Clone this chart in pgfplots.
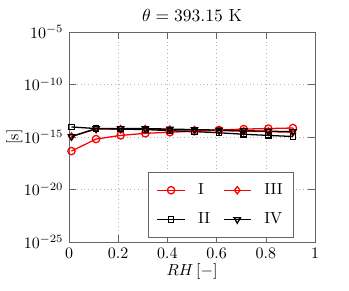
\documentclass[border=0pt]{standalone}
\usepackage{pgfplots}
\pgfplotsset{compat=1.18}
\begin{document}
\begin{tikzpicture}
\begin{axis}[
  scale only axis, width=153.75pt, height=131.25pt,
  xmin=0, xmax=1, ymode=log, ymin=1e-25, ymax=1e-5,
  ytick={1e-25,1e-20,1e-15,1e-10,1e-5},
  xtick={0,0.2,0.4,0.6,0.8,1},
  xticklabels={0,0.2,0.4,0.6,0.8,1},
  grid=major, major grid style={dotted, gray!60},
  axis line style={gray!80!black},
  tick style={gray!80!black},
  tick align=inside,
  title={$\theta = 393.15$ K},
  title style={font=\fontsize{11}{13}\selectfont, yshift=-3pt},
  xlabel={$RH\,[-]$}, ylabel={[s]},
  ylabel style={yshift=-6pt},
  xlabel style={yshift=4pt},
  clip=false,
  legend columns=2,
  legend style={at={(0.915,0.02)}, anchor=south east, draw=gray!80!black,
    column sep=6pt, row sep=6pt, inner sep=5pt},
  legend cell align=left,
]
\addplot[red, thick, mark=o, mark size=2.3pt] coordinates {
(0.01,4.5e-17) (0.11,6.3e-16) (0.21,1.4e-15) (0.31,2.2e-15) (0.41,2.8e-15)
(0.51,3.5e-15) (0.61,4.5e-15) (0.71,5.6e-15) (0.81,6.3e-15) (0.91,7.1e-15)};
\addlegendentry{I}
\addplot[red, thick, mark=diamond, mark size=2.3pt] coordinates {
(0.01,1.1e-15) (0.11,5.6e-15) (0.21,5.6e-15) (0.31,5.6e-15) (0.41,5.0e-15)
(0.51,4.5e-15) (0.61,4.0e-15) (0.71,3.5e-15) (0.81,3.2e-15) (0.91,2.8e-15)};
\addlegendentry{III}
\addplot[black, thick, mark=square, mark size=1.7pt] coordinates {
(0.01,8.9e-15) (0.11,6.3e-15) (0.21,5.6e-15) (0.31,5.0e-15) (0.41,4.0e-15)
(0.51,3.2e-15) (0.61,2.5e-15) (0.71,1.8e-15) (0.81,1.4e-15) (0.91,1.1e-15)};
\addlegendentry{II}
\addplot[black, thick, mark=triangle, mark options={rotate=180}, mark size=2.3pt] coordinates {
(0.01,1.1e-15) (0.11,6.3e-15) (0.21,6.3e-15) (0.31,6.3e-15) (0.41,5.6e-15)
(0.51,5.0e-15) (0.61,4.5e-15) (0.71,4.0e-15) (0.81,3.5e-15) (0.91,3.2e-15)};
\addlegendentry{IV}
\path (rel axis cs:-0.2805,-0.233) rectangle (rel axis cs:1.138,1.152);
\end{axis}
\end{tikzpicture}
\end{document}
